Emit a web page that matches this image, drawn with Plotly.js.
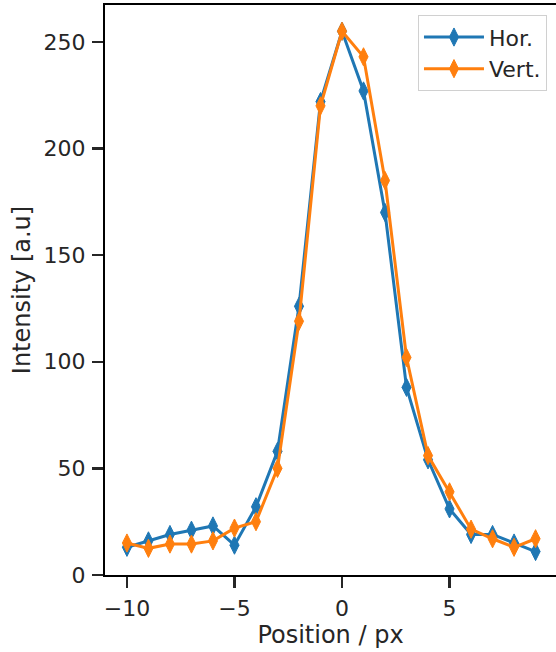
<!DOCTYPE html>
<html>
<head>
<meta charset="utf-8">
<script src="https://cdn.plot.ly/plotly-3.0.1.min.js"></script>
<style>html,body{margin:0;padding:0;background:#fff;}#chart{width:556px;height:652px;}</style>
</head>
<body>
<div id="chart"></div>
<script>
var positions = [-10,-9,-8,-7,-6,-5,-4,-3,-2,-1,0,1,2,3,4,5,6,7,8,9];
var horValues = [13,16,19,21,23,14,32,58,126,222,255,227,170,88,54,31,19,19,15,11];
var vertValues = [15,12.5,14.5,14.5,16,22,25,50,119,220,255,243,185,102,56,39,21.5,17,13,17];
var seriesNames = ['Hor.', 'Vert.'];
var xTicks = [-10,-5,0,5];
var xTickText = ['\u221210','\u22125','0','5'];
var yTicks = [0,50,100,150,200,250];

function trace(y, name, color) {
  return {
    x: positions, y: y, name: name, type: 'scatter', mode: 'lines+markers',
    line: {color: color, width: 3},
    marker: {symbol: 'diamond-tall', size: 13, color: color, line: {color: color, width: 1}}
  };
}

var data = [
  trace(horValues, seriesNames[0], '#1f77b4'),
  trace(vertValues, seriesNames[1], '#ff7f0e')
];

var axisCommon = {
  showgrid: false, zeroline: false, showline: true,
  linecolor: '#000', linewidth: 2,
  ticks: 'outside', ticklen: 11, tickwidth: 2.5, tickcolor: '#262626',
  ticklabelstandoff: 2,
  tickfont: {family: 'DejaVu Sans', size: 22, color: '#262626'}
};

var layout = {
  width: 556, height: 652,
  margin: {l: 105, r: 0, t: 5, b: 77},
  paper_bgcolor: '#fff', plot_bgcolor: '#fff',
  font: {family: 'DejaVu Sans', size: 22, color: '#262626'},
  xaxis: Object.assign({}, axisCommon, {
    range: [-11.02, 9.95], mirror: true,
    tickvals: xTicks, ticktext: xTickText,
    title: {text: 'Position / px', font: {family: 'DejaVu Sans', size: 24, color: '#262626'}, standoff: 4}
  }),
  yaxis: Object.assign({}, axisCommon, {
    range: [0, 267.3],
    tickvals: yTicks,
    title: {text: 'Intensity [a.u]', font: {family: 'DejaVu Sans', size: 24, color: '#262626'}, standoff: 6}
  }),
  legend: {
    x: 0.98, y: 0.982, xanchor: 'right', yanchor: 'top',
    itemwidth: 60,
    bgcolor: 'rgba(255,255,255,0.8)', bordercolor: '#d0d0d0', borderwidth: 1,
    font: {family: 'DejaVu Sans', size: 22, color: '#262626'}
  },
  showlegend: true
};

Plotly.newPlot('chart', data, layout, {displayModeBar: false, staticPlot: true});
</script>
</body>
</html>
